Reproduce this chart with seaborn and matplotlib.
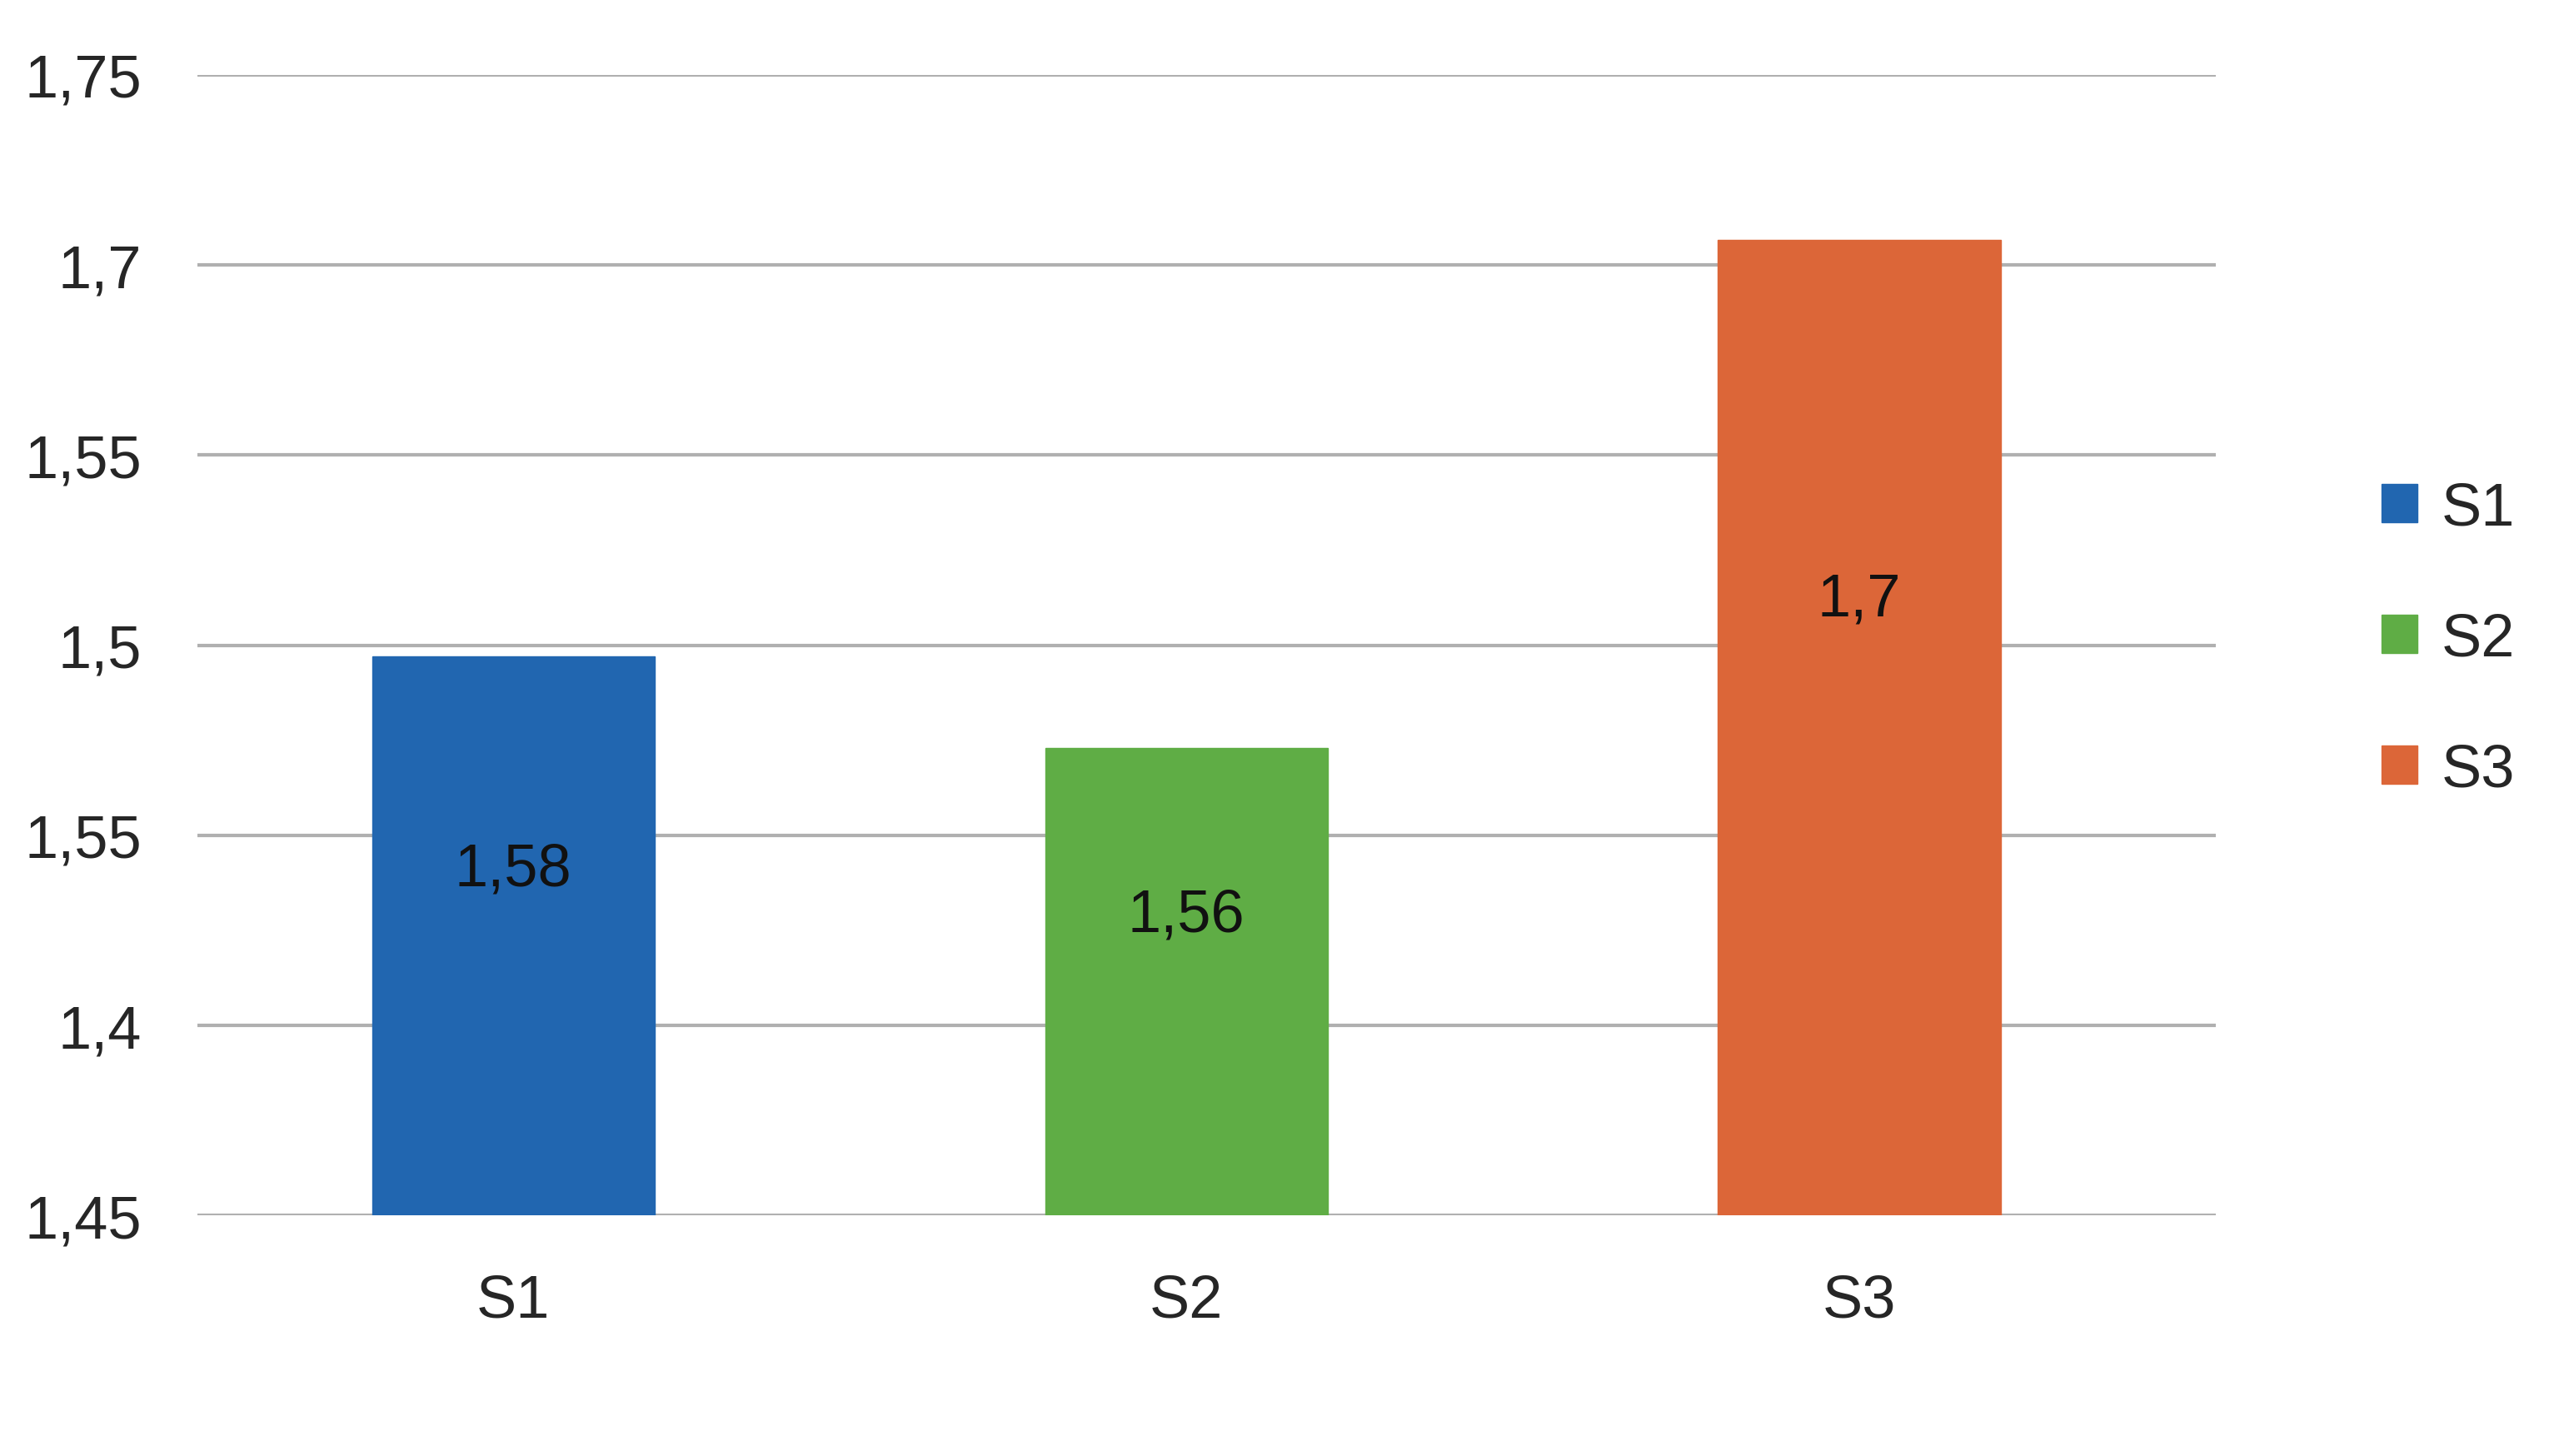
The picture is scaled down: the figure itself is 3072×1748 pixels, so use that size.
import matplotlib
matplotlib.use("Agg")
import matplotlib.pyplot as plt
import seaborn as sns
import pandas as pd

categories = ["S1", "S2", "S3"]
bar_heights = [1.597, 1.573, 1.7066]
bar_labels = ["1,58", "1,56", "1,7"]
label_y = [1.541, 1.529, 1.612]
colors = ["#2166b0", "#5fad45", "#dc6638"]
tick_values = [1.45, 1.50, 1.55, 1.60, 1.65, 1.70, 1.75]
tick_labels = ["1,45", "1,4", "1,55", "1,5", "1,55", "1,7", "1,75"]

sns.set_theme(style="white")
plt.rcParams['font.family'] = ['Liberation Sans', 'DejaVu Sans']

base = tick_values[0]
df = pd.DataFrame({"cat": categories, "val": [h - base for h in bar_heights]})
fig = plt.figure(figsize=(30.72, 17.49), dpi=100)
ax = fig.add_axes([0.077, 0.165, 0.789, 0.783])
sns.barplot(data=df, x="cat", y="val", hue="cat", palette=colors, width=0.42,
            ax=ax, legend=False, zorder=3, saturation=1)
for p, c in zip(ax.patches, colors):
    p.set_y(base)
    p.set_edgecolor(c)
    p.set_zorder(3)
for i in range(len(categories)):
    ax.text(i, label_y[i], bar_labels[i], ha="center", va="center",
            fontsize=52, color="#111111", zorder=4)

ax.set_ylim(tick_values[0], tick_values[-1])
ax.set_xlim(-0.47, 2.53)
ax.set_yticks(tick_values)
ax.set_yticklabels(tick_labels, fontsize=52)
ax.set_xticks(range(len(categories)))
ax.set_xticklabels(categories, fontsize=52)
ax.set_xlabel("")
ax.set_ylabel("")
ax.tick_params(axis="y", length=0, pad=48)
ax.tick_params(axis="x", length=0, pad=50)
ax.grid(axis="y", color="#b0b0b0", linewidth=3, zorder=0)
for s in ax.spines.values():
    s.set_visible(False)

handles = [plt.Rectangle((0, 0), 1, 1, color=c) for c in colors]
ax.legend(handles, categories, loc="center left", bbox_to_anchor=(1.055, 0.505),
          frameon=False, fontsize=52, handlelength=0.6, handleheight=0.6,
          handletextpad=0.4, labelspacing=1.25)
fig.savefig("out.png", dpi=100, facecolor="white")
